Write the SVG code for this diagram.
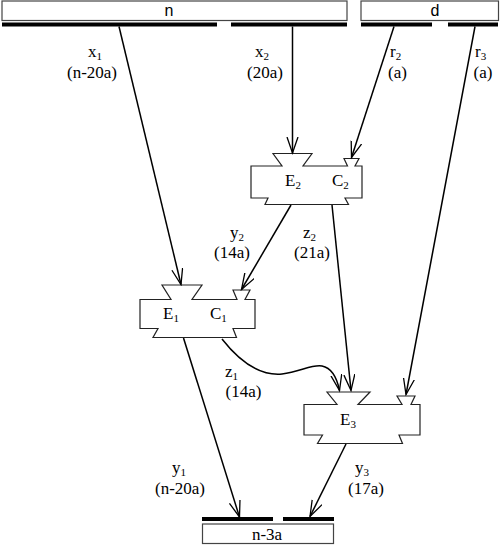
<svg xmlns="http://www.w3.org/2000/svg" width="500" height="545" viewBox="0 0 500 545">
<defs>
<marker id="ah" markerUnits="userSpaceOnUse" markerWidth="18" markerHeight="14" refX="16" refY="6" orient="auto" viewBox="0 0 18 14">
<path d="M0,0.5 L16,6 L0,11.5" fill="none" stroke="#000" stroke-width="1.3"/>
</marker>
</defs>
<style>
.box{fill:#fff;stroke:#444;stroke-width:1.2}
.bar{stroke:#000;stroke-width:4;fill:none}
.node{fill:#fff;stroke:#222;stroke-width:1.2;stroke-linejoin:miter}
.conn{fill:none;stroke:#000;stroke-width:1.5;marker-end:url(#ah)}
.t{font-family:"Liberation Serif","Times New Roman",serif;font-size:17px;fill:#000}
.tb{font-family:"Liberation Sans",Arial,sans-serif;font-size:16px;fill:#000}
.m{text-anchor:middle}
.s{font-size:11px}
</style>
<rect width="500" height="545" fill="#fff"/>

<g id="node-n">
<rect class="box" x="2" y="1" width="345" height="19.5"/>
<text class="tb m" x="169" y="16">n</text>
<path class="bar" d="M2,24.5 H217 M231,24.5 H347"/>
</g>

<g id="node-d">
<rect class="box" x="361" y="1" width="137.5" height="19.5"/>
<text class="tb m" x="435" y="16">d</text>
<path class="bar" d="M361,24.5 H432 M448,24.5 H498"/>
</g>

<g id="node-E2">
<path class="node" d="M251,166 H282 L273,153.5 H312 L303,166 H347.5 L344,158.5 H359 L355,166 H362 V198 H345 L348.5,204.5 H265 L268,198 H251 Z"/>
<text class="t" x="285" y="186">E<tspan class="s" dy="3">2</tspan></text>
<text class="t" x="332" y="186">C<tspan class="s" dy="3">2</tspan></text>
</g>

<g id="node-E1">
<path class="node" d="M140,299.5 H171 L162,285 H202 L192,299.5 H237 L233,290 H250 L245,299.5 H255 V328.5 H233 L236.5,337.5 H153 L158,328.5 H140 Z"/>
<text class="t" x="163" y="319">E<tspan class="s" dy="3">1</tspan></text>
<text class="t" x="210" y="319">C<tspan class="s" dy="3">1</tspan></text>
</g>

<g id="node-E3">
<path class="node" d="M304,404.5 H337 L327,392 H370 L358,404.5 H402 L397,396 H415 L411,404.5 H420 V435 H399 L402.5,443.5 H317.5 L322.5,435 H304 Z"/>
<text class="t" x="340" y="425">E<tspan class="s" dy="3">3</tspan></text>
</g>

<g id="node-out">
<path class="bar" d="M202,519 H273 M283,519 H334"/>
<rect class="box" x="202.5" y="524" width="131" height="19.5"/>
<text class="t m" x="267" y="540">n-3a</text>
</g>

<g id="connectors">
<path class="conn" d="M119,26.5 L181,284.5"/>
<path class="conn" d="M292.5,26.5 L292.5,153"/>
<path class="conn" d="M394,26.5 L351.5,157.5"/>
<path class="conn" d="M475,26.5 L406,394.5"/>
<path class="conn" d="M291,205 L241.5,289.5"/>
<path class="conn" d="M332,205 L351,390.5"/>
<path class="conn" d="M222,339 C240,362 260,376 282,374 C300,372 312,364 322,366 C332,368 337,378 339.5,390.5"/>
<path class="conn" d="M183.5,338 L239.5,517"/>
<path class="conn" d="M346,444 L310,516.5"/>
</g>

<g id="labels">
<text class="t" x="88" y="57">x<tspan class="s" dy="3">1</tspan></text>
<text class="t m" x="92" y="78">(n-20a)</text>
<text class="t" x="255" y="57">x<tspan class="s" dy="3">2</tspan></text>
<text class="t m" x="265" y="78">(20a)</text>
<text class="t" x="390" y="57">r<tspan class="s" dy="3">2</tspan></text>
<text class="t m" x="397.5" y="78">(a)</text>
<text class="t" x="475" y="57">r<tspan class="s" dy="3">3</tspan></text>
<text class="t m" x="483" y="78">(a)</text>
<text class="t" x="230" y="238">y<tspan class="s" dy="3">2</tspan></text>
<text class="t m" x="232" y="258">(14a)</text>
<text class="t" x="303" y="238">z<tspan class="s" dy="3">2</tspan></text>
<text class="t m" x="312" y="258">(21a)</text>
<text class="t" x="225" y="377">z<tspan class="s" dy="3">1</tspan></text>
<text class="t m" x="243.5" y="397">(14a)</text>
<text class="t" x="172" y="473">y<tspan class="s" dy="3">1</tspan></text>
<text class="t m" x="180" y="494">(n-20a)</text>
<text class="t" x="355" y="473">y<tspan class="s" dy="3">3</tspan></text>
<text class="t m" x="366" y="494">(17a)</text>
</g>
</svg>
